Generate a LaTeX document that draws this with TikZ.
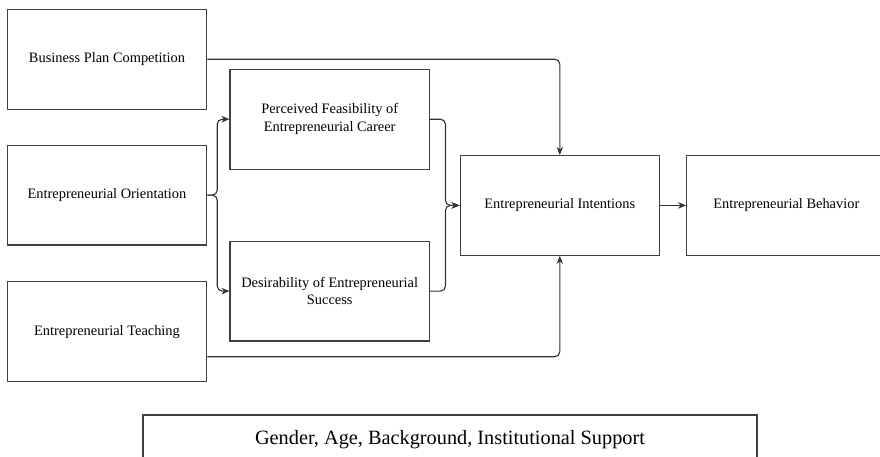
\documentclass[tikz,border=0pt]{standalone}
\usepackage{fontspec}
\setmainfont{Liberation Serif}
\usepackage{tikz}
\usetikzlibrary{arrows.meta, positioning}
\usepackage{xcolor}

\begin{document}
\begin{tikzpicture}[
    x=1pt, y=1pt,
    box/.style = {rectangle, draw=black!75, line width=1.1pt, fill=white, align=center, text=black, font=\fontsize{14.4}{17.6}\selectfont, minimum width=199.4pt, minimum height=99.8pt, inner sep=0pt},
    ctrl/.style = {rectangle, draw=black!75, line width=1.1pt, fill=white, align=center, text=black, font=\fontsize{20.3}{24}\selectfont, minimum width=614pt, minimum height=48.4pt, inner sep=0pt},
    arrow/.style = {draw=black!80, ->, >={Stealth[length=8pt, width=6.5pt, inset=2.5pt]}, line width=1.1pt, rounded corners=5pt}
]
\useasboundingbox (0,0) rectangle (880,-456);

\node (f_plan) [box] at (107,-59.2) {Business Plan Competition};
\node (f_orient) [box, below=35pt of f_plan] {Entrepreneurial Orientation};
\node (f_teach) [box, below=35.7pt of f_orient] {Entrepreneurial Teaching};
\node (m_feas) [box] at (329.7,-119.2) {Perceived Feasibility of\\Entrepreneurial Career};
\node (m_desir) [box, below=71pt of m_feas] {Desirability of Entrepreneurial\\Success};
\node (o_int) [box] at (559.8,-205.4) {Entrepreneurial Intentions};
\node (o_beh) [box, right=26pt of o_int] {Entrepreneurial Behavior};
\node (c_ctrl) [ctrl] at (450,-439.2) {Gender, Age, Background, Institutional Support};

\draw [arrow] (f_orient.east) -- ++(10,0) |- (m_feas.west);
\draw [arrow] (f_orient.east) -- ++(10,0) |- (m_desir.west);
\draw [arrow] (m_feas.east) -- ++(15.5,0) |- (o_int.west);
\draw [arrow] (m_desir.east) -- ++(15.5,0) |- (o_int.west);
\draw [arrow] (f_plan.east) -| (o_int.north);
\draw [arrow] ([yshift=-25pt]f_teach.east) -| (o_int.south);
\draw [arrow] (o_int) -- (o_beh);

\end{tikzpicture}
\end{document}
